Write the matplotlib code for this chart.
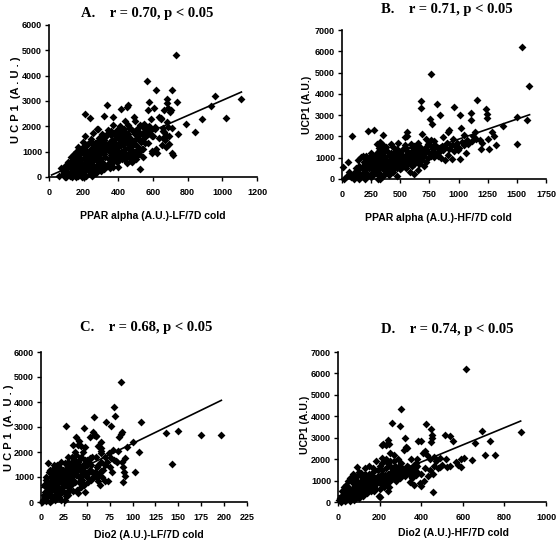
import matplotlib
matplotlib.use("Agg")
import matplotlib.pyplot as plt
import numpy as np

# ---------------- data ----------------
a_x = [730,563,620,712,960,1110,935,1020,880,845,790,745,740,678,682,715,710,675,623,592,525,335,208,235,458,450,413,492,604,573,662,688,648,579,320,371,285,587,592,612,660,664,656,692,688,710,646,637,679,705,700,
       60,70,80,90,95,100,100,110,110,120,120,125,130,130,140,140,145,150,150,155,160,160,165,170,175,180,185,185,190,195,200,200,205,210,210,215,220,220,225,230,230,235,240,240,245,250,250,255,260,260,265,270,270,275,280,280,285,290,290,295,300,300,305,310,310,315,320,320,325,330,330,335,340,340,345,350,350,355,360,360,365,370,370,375,380,380,385,390,390,395,400,400,405,410,410,415,420,420,425,430,430,435,440,440,445,450,455,460,460,465,470,475,480,485,490,495,500,505,510,515,520,525,530,540,545,550,555,560,570,575,580,590,595,600,610,620,635,650,660,670,680,690,
       90,130,170,200,240,270,300,350,190,250,400,450,480,500,520,540,470]
a_y = [4800,3800,3450,3430,3200,3070,2820,2330,2280,1770,2100,1680,2950,3080,2930,850,950,1200,930,1030,300,2830,2470,2320,2830,2750,2680,2380,2720,2640,2640,2710,2340,2970,2420,2380,1910,1855,1600,1960,1950,1790,1530,1620,1960,1920,2290,2380,2180,2650,2580,
       50,350,100,200,450,0,300,150,600,50,400,800,250,650,100,500,900,300,700,0,150,500,1200,850,350,600,1000,100,450,1400,750,250,1100,550,1600,50,900,350,1300,650,1000,200,1500,800,450,1150,600,1750,300,900,1350,700,1050,1900,500,1200,850,1550,400,1000,1300,700,1700,950,550,1150,1450,300,800,1600,1050,450,1250,1850,700,1400,1000,600,1650,1200,850,2050,400,1100,1500,750,1300,950,1850,600,1200,1650,800,1400,2000,1000,1600,700,1250,1800,900,1450,1100,2200,800,1350,1700,950,1950,1200,1550,650,1400,1800,1000,2200,1500,850,1900,1200,1650,2050,1400,1750,1100,2100,1600,1850,1350,2000,1700,2300,950,1600,1900,1100,1550,1250,1800,1450,1600,1300,
       0,0,50,0,100,150,250,350,0,50,400,550,600,700,900,800,750]
a_x2 = [215,235,255,275,295,315,335,355,375,395,415,435,455,475,495,515,535,555,505,485,465,445,425,405,385,365,345,325,305,285,265,245,225,205,185,165,145,125,105,135,155,175,195,215,235,255,275,295,315,335,355,375,395,415,435,455,475,495,515,535,555,575,545,565,250,280,310,340,370,400,430,460,490,520,200,180,160,140,120,100,80,230,260,290]
a_y2 = [700,950,450,800,600,900,1150,850,1350,1050,1250,950,1150,1050,1300,1550,1100,1350,1050,1250,1500,1650,1450,1550,1150,1450,1100,1350,1050,1100,900,1000,600,850,700,650,350,550,450,800,1000,1100,1200,1250,1400,1300,1400,1450,1600,1700,1800,1700,1600,1800,1900,2050,1900,1700,1800,2000,1900,1800,1500,1650,400,300,400,500,600,650,700,800,850,1000,400,250,300,200,150,100,250,250,150,500]

b_x = [1540,1605,765,680,675,815,960,1160,1235,1240,1245,1105,1010,840,757,768,1500,1590,1385,1505,1260,1320,1290,1110,90,220,277,354,50,10,560,560,911,920,1049,1111,1123,1140,1060,940,883,997,1180,1200,1050,980,1190,1300,1250,1020,870,950,900,860,820,780,740,700,720,790,650,620,600,650,690,560,540,480,420,380,350,320,470,520,500,450,430,400,370,340,300,280,260,240,220,200,180,160,150,130,120,100,80,60,40,20,100,200,250,300,330,360,390,420,450,480,510,540,570,600,630,660,690,650,600,550,500,440,380,350,310,270,230,210,180,170,260,290,320,350,380,410,460,490,520,580,610,670,710,760,800,830,870,910,960,1000,1030,1080,1150,1010,850,790,720,620,580,470,400,330,270,150,390,440,300,330,250,210,640,540,700,740]
b_y = [6200,4350,4950,3650,3330,3530,3400,3700,3280,3050,2850,3120,3000,3000,2820,2570,2900,2780,2500,1650,1400,1600,2200,2750,2020,2250,2300,2065,800,550,2190,2000,2222,2300,2065,1800,2040,2190,1200,920,890,1360,1850,1700,1600,1550,1400,2000,1900,2400,1950,1900,1700,1550,1450,1300,1250,1200,1900,1800,1700,1550,1500,1300,2100,1300,1600,1700,1650,1500,1600,1450,1400,1100,1250,1200,1000,1150,1050,1200,1100,950,800,1050,900,700,1100,1050,600,400,200,300,100,350,150,0,0,0,100,300,500,700,850,600,800,950,700,900,1000,800,1000,1100,900,400,600,500,450,350,300,150,0,400,500,300,250,500,600,700,850,950,650,900,1050,1150,1400,1200,1300,1500,1450,1550,1600,1250,1350,1150,1300,1450,1750,1650,1900,950,1000,1050,800,250,350,150,200,0,200,0,1300,1500,1650,1750,1200,1100,900,1950,1350,1650]
b_x2 = [200,220,240,260,280,300,320,340,360,380,400,420,440,460,480,500,520,540,560,580,600,620,640,660,680,700,720,740,760,780,800,820,840,880,920,940,990,1070,150,170,190,210,230,250,270,290,310,330,350,370,390,410,430,450,470,490,510,530,560,590,620,660,700,120,140,200,270,320,300,420,460,360,550,590,630,680,760]
b_y2 = [400,200,600,300,700,500,300,700,400,900,500,800,600,900,700,1000,800,1100,900,800,1100,700,1200,900,1000,1100,1300,1000,1100,1400,1200,1100,1300,1500,1400,1600,1700,1850,300,150,800,500,800,500,900,300,700,1000,500,800,400,700,400,600,500,800,500,600,700,900,1200,700,600,500,900,1000,1100,1300,1200,1200,1300,1350,1450,1650,1450,1250,1850]

c_x = [87,197,175,150,137,143,109,103,107,100,80,81,77,71,87,89,58,27,47,66,90,91,92,58,60,54,90,88,73,70,42,38,40,35,44,65,62,66,76,70,82,84,92,94,83,85,79,60,57,53,50,52,55,60,63,68,72,75,78,65,62,46,44,48,40,38,36,34,32,30,28,26,24,22,20,18,16,14,12,10,8,6,4,2,3,5,7,9,11,13,15,17,19,21,23,25,27,29,31,33,35,37,39,41,43,45,47,49,51,53,55,57,59,61,64,67,13,10,15,20,25,30,35,40,5,1,3,18,22,26,30,34,38,42,46,50,20,24,28,32,36,12,16,6,9,11,14,17,19,23,27,31,44,48]
c_y = [4800,2680,2680,2850,2780,1530,3220,1200,1990,2400,3800,3450,3050,3200,2730,2810,3400,3060,2950,1950,810,1210,1050,2700,2650,1750,1410,1610,840,840,2450,2600,2300,2300,2250,2400,2250,2150,1750,1800,1650,2050,1750,2200,1600,2600,2100,2650,2800,2600,1500,1200,900,1000,1100,1300,1600,1400,1200,1600,850,2000,1800,1700,1600,1900,1700,1400,1200,1800,1500,1300,1100,1600,1400,1200,1000,1500,1300,800,1550,600,400,100,300,900,200,500,1000,700,300,800,600,900,400,700,1000,600,900,700,1100,800,500,1000,1300,900,700,1100,800,1300,1500,1000,1200,1400,700,1000,200,0,100,200,400,300,450,350,50,0,700,1500,1250,1550,1400,1600,1350,1500,1350,1700,500,800,1200,1000,1250,500,400,1000,1200,250,900,1100,300,1000,250,600,600,400]
c_x2 = [4,6,8,10,12,14,16,18,20,22,24,26,28,30,32,34,36,38,40,42,44,46,48,50,52,54,56,16,20,24,28,32,18,22,26,8,10,14,12,30,34,38,42,46,56,60,62,65,70,74,80,66,37,48]
c_y2 = [200,300,400,600,900,1100,700,900,1100,800,1300,1000,800,1100,1400,1000,800,1100,1300,800,1100,1500,1200,1000,1600,1300,1200,1300,800,600,400,500,200,100,100,800,1300,600,100,1600,1800,1500,1700,1100,1800,1800,1500,1250,1500,1950,1700,2050,2000,2200]

d_x = [615,878,303,260,300,422,447,513,538,553,694,731,660,705,755,643,604,591,457,452,450,445,385,400,322,328,333,245,213,215,240,185,569,578,593,525,492,345,364,400,420,430,440,460,470,490,410,380,360,340,320,300,280,260,240,220,200,270,250,230,210,190,170,150,130,110,90,70,50,30,10,20,40,60,80,100,120,140,160,180,200,220,240,260,280,300,320,340,360,380,400,420,440,460,480,500,520,540,15,25,35,45,55,65,75,85,95,105,115,125,135,145,155,165,175,185,195,205,215,225,235,245,255,265,285,295,305,315,335,355,375,395,415,435,455,90,70,110,130,150,80,60,100,40,20,5,50,75,100,125,150,175,200,210,230,250,275,290,315,350,375]
d_y = [6200,3270,4350,3700,3530,3650,3400,3120,3080,2850,3330,2870,2760,2200,2180,1940,2040,2000,480,3000,3150,2780,2850,2840,2980,2580,2500,2690,2650,2700,2900,1930,1850,1740,1630,1650,1620,950,790,760,2400,2200,2000,2100,1900,2050,2300,2000,1700,1600,1500,1400,1300,1600,1800,1900,1700,2200,2300,2000,1500,1200,1400,1300,1100,1200,1000,900,700,400,200,100,300,500,600,800,700,900,1000,1100,900,1100,1300,1200,1000,1100,1200,1300,1500,1400,1300,1600,1500,1700,1600,1750,2000,1700,0,300,50,400,200,600,350,750,500,900,400,1000,600,1100,800,1200,700,900,300,1000,800,1250,900,700,1400,1100,1500,1700,1800,1350,1650,1100,1250,900,1000,1200,1300,1650,1300,1350,1600,1700,1200,1100,1400,800,500,100,200,100,300,500,600,500,250,2050,2650,1900,1700,2000,2450,2000,1800]
d_x2 = [20,30,40,50,60,70,80,90,100,110,120,130,140,150,160,170,180,190,200,210,220,230,240,250,260,270,280,290,300,310,320,330,340,350,360,370,380,30,50,70,90,110,130,150,170,190,210,230,250,270,100,120,140,160,180,200,220,240,60,40,80]
d_y2 = [300,150,500,400,300,600,400,700,600,900,500,800,700,1000,800,1000,800,1000,1200,1300,1000,1200,1100,1000,1400,1300,1200,1400,1300,1600,1400,1700,1500,1300,1400,1600,1700,700,1000,1100,1200,1000,1300,1100,1600,1500,1800,1600,1700,1900,200,300,400,500,600,600,700,500,50,100,200]

# trend lines: (slope, intercept, x start, x end)
a_fit = (2.99, 35, 15, 1110)
b_fit = (1.89, -21, 11, 1609)
c_fit = (17.8, 560, 1, 197)
d_fit = (4.0, 265, 5, 878)

titles = ["A.    r = 0.70, p < 0.05", "B.    r = 0.71, p < 0.05",
          "C.    r = 0.68, p < 0.05", "D.    r = 0.74, p < 0.05"]
xlabels = ["PPAR alpha (A.U.)-LF/7D cold", "PPAR alpha (A.U.)-HF/7D cold",
           "Dio2 (A.U.)-LF/7D cold", "Dio2 (A.U.)-HF/7D cold"]
ylabels = ["U C P 1  (A . U . )", "UCP1 (A.U.)", "U C P 1  (A . U . )", "UCP1 (A.U.)"]
xticks = [[0,200,400,600,800,1000,1200], [0,250,500,750,1000,1250,1500,1750],
          [0,25,50,75,100,125,150,175,200,225], [0,200,400,600,800,1000]]
yticks = [[0,1000,2000,3000,4000,5000,6000], [0,1000,2000,3000,4000,5000,6000,7000],
          [0,1000,2000,3000,4000,5000,6000], [0,1000,2000,3000,4000,5000,6000,7000]]

# ---------------- layout ----------------
W, H = 560, 552
fig = plt.figure(figsize=(W/100, H/100), dpi=100)
fig.patch.set_facecolor("white")

def px(x0, y0, x1, y1):
    return [x0/W, 1-y1/H, (x1-x0)/W, (y1-y0)/H]

boxes = [px(49, 25, 257, 177), px(342, 30, 546, 179), px(41, 352, 247, 502), px(338, 352, 546, 502)]
title_pos = [(147, 13), (447, 10), (146, 327), (447, 329)]
xlab_pos = [(153, 216), (438, 218), (149, 535), (453, 533)]
ylab_pos = [(16, 100), (307, 105), (9, 428), (305, 425)]
ylab_size = [8, 7.5, 8, 7.5]

sans = ["Liberation Sans Narrow", "Liberation Sans", "DejaVu Sans"]
datasets = [(a_x + a_x2, a_y + a_y2, a_fit), (b_x + b_x2, b_y + b_y2, b_fit),
            (c_x + c_x2, c_y + c_y2, c_fit), (d_x + d_x2, d_y + d_y2, d_fit)]

for i, (xs, ys, fit) in enumerate(datasets):
    ax = fig.add_axes(boxes[i])
    ax.scatter(xs, ys, marker="D", s=16, color="black", linewidths=0, zorder=3, clip_on=False)
    s, b, x0, x1 = fit
    fx = np.array([x0, x1])
    ax.plot(fx, s*fx + b, color="black", lw=1.2, zorder=4)
    ax.set_xlim(xticks[i][0], xticks[i][-1])
    ax.set_ylim(yticks[i][0], yticks[i][-1])
    ax.set_xticks(xticks[i])
    ax.set_yticks(yticks[i])
    for sp in ("top", "right"):
        ax.spines[sp].set_visible(False)
    for sp in ("left", "bottom"):
        ax.spines[sp].set_linewidth(1.2)
    ax.tick_params(direction="out", length=3, width=1)
    ax.tick_params(axis="y", pad=2)
    ax.tick_params(axis="x", pad=5)
    for lab in ax.get_xticklabels() + ax.get_yticklabels():
        lab.set_family(sans)
        lab.set_fontweight("bold")
        lab.set_fontsize(6.5)
    ax.patch.set_alpha(0)
    tx, ty = title_pos[i]
    fig.text(tx/W, 1-ty/H, titles[i], ha="center", va="center",
             family=["Liberation Serif", "DejaVu Serif"], fontweight="bold", fontsize=10.5)
    lx, ly = xlab_pos[i]
    fig.text(lx/W, 1-ly/H, xlabels[i], ha="center", va="center",
             family=sans, fontweight="bold", fontsize=7.5)
    yx, yy = ylab_pos[i]
    fig.text(yx/W, 1-yy/H, ylabels[i], ha="center", va="center", rotation=90,
             family=sans, fontweight="bold", fontsize=ylab_size[i])

fig.savefig("out.png", dpi=100, facecolor="white")
